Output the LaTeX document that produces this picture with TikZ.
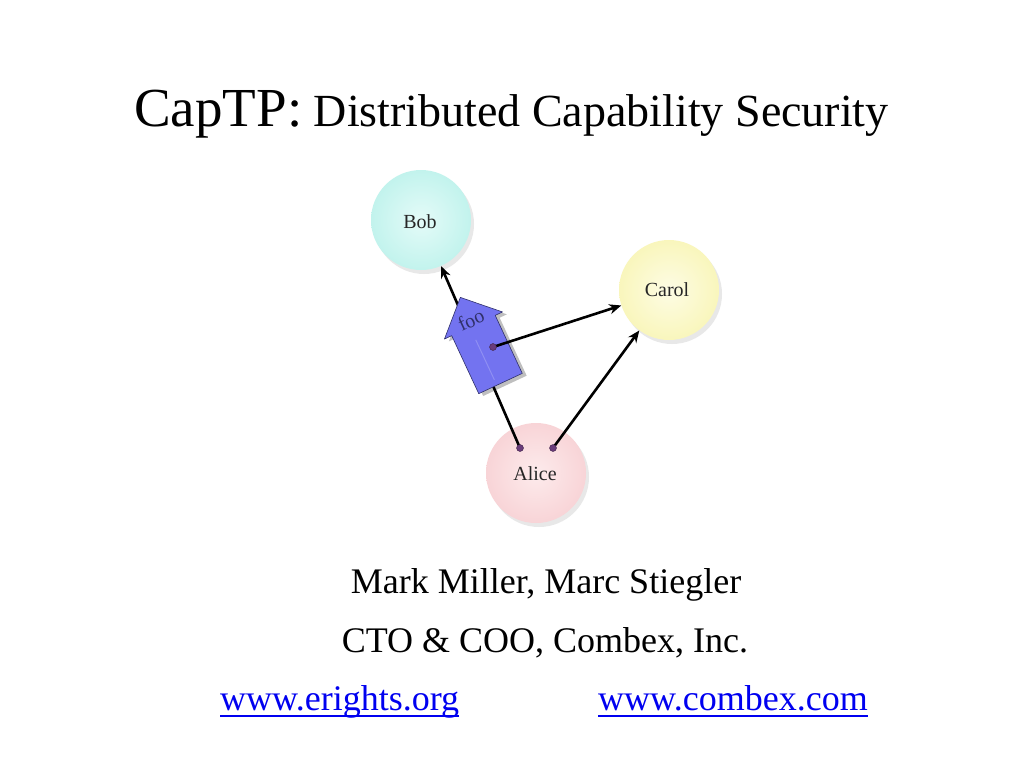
\documentclass[tikz,border=0pt]{standalone}
\usepackage{fontspec}
\setmainfont{Liberation Serif}
\usetikzlibrary{arrows.meta,shadows,calc}
\definecolor{bobc}{HTML}{E4FBF8}
\definecolor{bobd}{HTML}{C2F3ED}
\definecolor{carolc}{HTML}{FDFCE4}
\definecolor{carold}{HTML}{F9F6BC}
\definecolor{alicec}{HTML}{FDEBEC}
\definecolor{aliced}{HTML}{F8D4D7}
\definecolor{foofill}{HTML}{7373F0}
\definecolor{foodark}{HTML}{30306A}
\definecolor{dotc}{HTML}{6A3C7A}
\definecolor{linkblue}{HTML}{0000F0}
\tikzset{
  ball/.style={circle, minimum size=100pt, inner sep=0pt,
    inner color=#1c, outer color=#1d,
    drop shadow={opacity=0.18, shadow xshift=3pt, shadow yshift=-4pt}},
  lbl/.style={font=\fontsize{20}{22}\selectfont, inner sep=0pt, text=black!85},
  capdot/.style={circle, inner sep=0pt, minimum size=7pt, fill=dotc, draw=dotc!60!black, line width=0.4pt},
  ref/.style={draw=black, line width=2.6pt, -{Stealth[length=12pt,width=10pt]}},
  body/.style={font=\fontsize{36}{40}\selectfont, anchor=base},
  link/.style={font=\fontsize{36}{40}\selectfont, anchor=base west, text=linkblue, inner sep=0pt},
  uline/.style={draw=linkblue, line width=1.6pt}
}
\begin{document}
\begin{tikzpicture}[x=1pt,y=-1pt]
\useasboundingbox[fill=white] (0,0) rectangle (1024,768);

% title
\node[anchor=base, inner sep=0pt] (title) at (511.5,126)
  {{\fontsize{55}{60}\selectfont CapTP:}{\fontsize{46}{50}\selectfont\ Distributed Capability Security}};

% circles
\node[ball=bob] (bob) at (421,220) {};
\node[ball=carol] (carol) at (669,290) {};
\node[ball=alice] (alice) at (536,473) {};
\node[lbl] (boblbl) at (420,222) {Bob};
\node[lbl] (carollbl) at (667,290) {Carol};
\node[lbl] (alicelbl) at (535,474) {Alice};

% capability dots
\coordinate (ad1) at (520,448);
\coordinate (ad2) at (553,448);
\coordinate (fd) at (493,347);

% Alice -> Bob (behind the foo arrow)
\draw[ref] (ad1) -- (bob);

% foo message arrow
\begin{scope}[shift={(500.5,383.5)}, rotate=25]
  \fill[black, opacity=0.25] (-21,4) -- (27,4) -- (27,-60) -- (35,-60) -- (3,-91) -- (-29,-60) -- (-21,-60) -- cycle;
  \draw[fill=foofill, draw=foodark, line width=0.6pt, line join=round]
    (-24,0) -- (24,0) -- (24,-64) -- (32,-64) -- (0,-95) -- (-32,-64) -- (-24,-64) -- cycle;
  \draw[foofill!80!white, line width=1pt] (-4,-6) -- (-4,-50);
\end{scope}
\node[font=\fontsize{20}{22}\selectfont, inner sep=0pt, rotate=25, text=foodark] (foo) at (471,320) {foo};

% other references
\draw[ref] (fd) -- (carol);
\draw[ref] (ad2) -- (carol);

\node[capdot] (fdot) at (fd) {};
\node[capdot] (adot1) at (ad1) {};
\node[capdot] (adot2) at (ad2) {};

% bottom text
\node[body] (names) at (546,593) {Mark Miller, Marc Stiegler};
\node[body] (cto) at (545,652) {CTO \& COO, Combex, Inc.};
\node[link] (l1) at (220,710) {www.erights.org};
\node[link] (l2) at (598,710) {www.combex.com};
\draw[uline] ($(l1.base west)+(0,6)$) -- ($(l1.base east)+(0,6)$);
\draw[uline] ($(l2.base west)+(0,6)$) -- ($(l2.base east)+(0,6)$);
\end{tikzpicture}
\end{document}
